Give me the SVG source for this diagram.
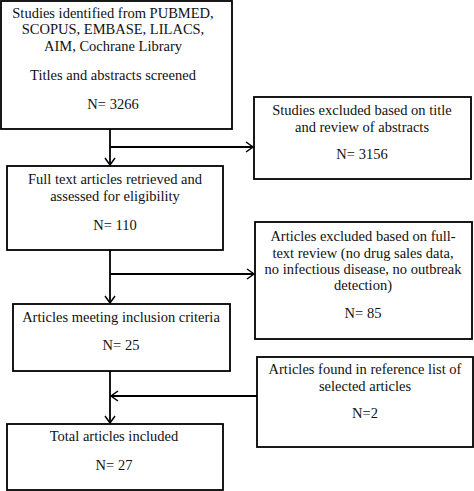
<svg xmlns="http://www.w3.org/2000/svg" width="474" height="491" viewBox="0 0 474 491">
<defs>
<marker id="ah" markerWidth="10" markerHeight="12" refX="8" refY="6" orient="auto" markerUnits="userSpaceOnUse">
<path d="M1,1 L8,6 L1,11" fill="none" stroke="#000" stroke-width="1.5"/>
</marker>
<style>
.box{fill:#fff;stroke:#000;stroke-width:1.8}
.t{font-family:"Times New Roman","Liberation Serif",Times,serif;font-size:14.5px;fill:#111;text-anchor:middle}
.c{fill:none;stroke:#000;stroke-width:1.8}
</style>
</defs>
<rect width="474" height="491" fill="#fff"/>
<g id="connectors">
<line class="c" x1="110" y1="129" x2="110" y2="165" marker-end="url(#ah)"/>
<line class="c" x1="110" y1="147" x2="253" y2="147" marker-end="url(#ah)"/>
<line class="c" x1="110" y1="250" x2="110" y2="303" marker-end="url(#ah)"/>
<line class="c" x1="110" y1="274" x2="254" y2="274" marker-end="url(#ah)"/>
<line class="c" x1="110" y1="371" x2="110" y2="423" marker-end="url(#ah)"/>
<line class="c" x1="257" y1="396" x2="111" y2="396" marker-end="url(#ah)"/>
</g>
<g id="identified">
<rect class="box" x="1" y="1" width="231" height="128"/>
<text class="t" x="113" y="18">Studies identified from PUBMED,</text>
<text class="t" x="113" y="34">SCOPUS, EMBASE, LILACS,</text>
<text class="t" x="113" y="51">AIM, Cochrane Library</text>
<text class="t" x="113" y="80">Titles and abstracts screened</text>
<text class="t" x="113" y="109">N= 3266</text>
</g>
<g id="excluded1">
<rect class="box" x="254" y="97" width="217" height="82"/>
<text class="t" x="362" y="115">Studies excluded based on title</text>
<text class="t" x="362" y="132">and review of abstracts</text>
<text class="t" x="362" y="159">N= 3156</text>
</g>
<g id="fulltext">
<rect class="box" x="7" y="166" width="216" height="84"/>
<text class="t" x="115" y="184">Full text articles retrieved and</text>
<text class="t" x="115" y="201">assessed for eligibility</text>
<text class="t" x="115" y="230">N= 110</text>
</g>
<g id="excluded2">
<rect class="box" x="255" y="222" width="217" height="117"/>
<text class="t" x="363" y="241">Articles excluded based on full-</text>
<text class="t" x="363" y="258">text review (no drug sales data,</text>
<text class="t" x="363" y="274">no infectious disease, no outbreak</text>
<text class="t" x="363" y="290">detection)</text>
<text class="t" x="363" y="318">N= 85</text>
</g>
<g id="meeting">
<rect class="box" x="13" y="304" width="217" height="67"/>
<text class="t" x="121" y="322">Articles meeting inclusion criteria</text>
<text class="t" x="121" y="350">N= 25</text>
</g>
<g id="reference">
<rect class="box" x="257" y="357" width="216" height="90"/>
<text class="t" x="365" y="374">Articles found in reference list of</text>
<text class="t" x="365" y="391">selected articles</text>
<text class="t" x="365" y="418">N=2</text>
</g>
<g id="total">
<rect class="box" x="7" y="424" width="216" height="66"/>
<text class="t" x="114" y="441">Total articles included</text>
<text class="t" x="114" y="470">N= 27</text>
</g>
</svg>
